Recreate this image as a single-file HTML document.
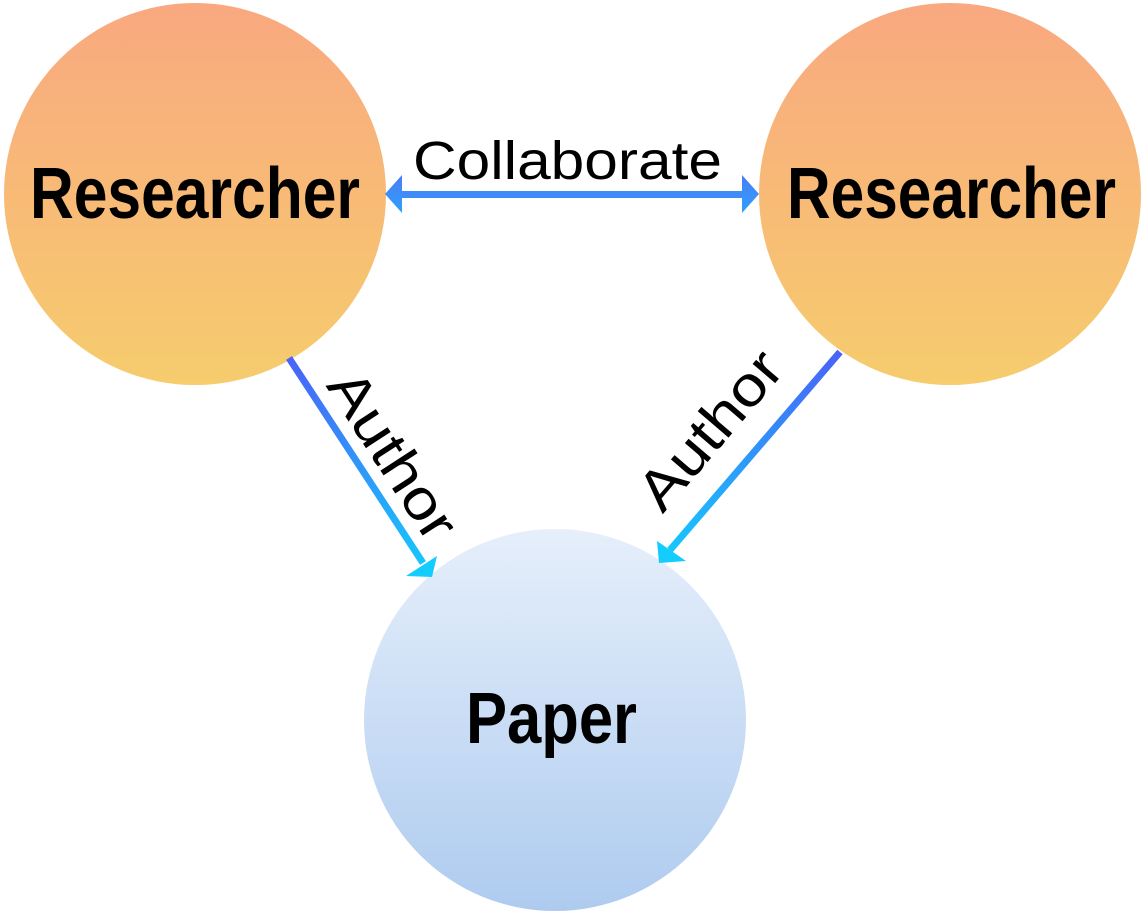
<!DOCTYPE html>
<html><head><meta charset="utf-8"><style>html,body{margin:0;padding:0;background:#fff;}svg{display:block}</style></head>
<body>
<svg width="1145" height="917" viewBox="0 0 1145 917" xmlns="http://www.w3.org/2000/svg">
<defs>
<linearGradient id="og" x1="0" y1="0" x2="0" y2="1"><stop offset="0" stop-color="#F9A880"/><stop offset="1" stop-color="#F6CC6D"/></linearGradient>
<linearGradient id="bg" x1="0" y1="0" x2="0" y2="1"><stop offset="0" stop-color="#E6EFFB"/><stop offset="1" stop-color="#AECBEF"/></linearGradient>
<linearGradient id="a1" gradientUnits="userSpaceOnUse" x1="289" y1="358" x2="432" y2="577"><stop offset="0" stop-color="#4A62F6"/><stop offset="1" stop-color="#14CCFD"/></linearGradient>
<linearGradient id="a2" gradientUnits="userSpaceOnUse" x1="840" y1="352" x2="659" y2="563"><stop offset="0" stop-color="#4A62F6"/><stop offset="1" stop-color="#14CCFD"/></linearGradient>
<linearGradient id="a3" x1="0" y1="0" x2="0" y2="1"><stop offset="0" stop-color="#4A7DF6"/><stop offset="1" stop-color="#2FA0FB"/></linearGradient>
</defs>
<circle cx="195" cy="194" r="191" fill="url(#og)"/>
<circle cx="950" cy="194" r="191" fill="url(#og)"/>
<circle cx="555" cy="720" r="191" fill="url(#bg)"/>
<rect x="400" y="191" width="344" height="7" fill="#3F8BF8"/>
<polygon points="385,194 402,175 402,213" fill="url(#a3)"/>
<polygon points="759,194 742,175 742,213" fill="url(#a3)"/>
<text x="413" y="179" font-family="Liberation Sans, sans-serif" font-size="54" textLength="309" lengthAdjust="spacingAndGlyphs" fill="#000">Collaborate</text>
<line x1="289" y1="358" x2="423" y2="563" stroke="url(#a1)" stroke-width="7"/>
<polygon points="432,577 406,576 437,556" fill="#14CCFD"/>
<line x1="840" y1="352" x2="670" y2="550" stroke="url(#a2)" stroke-width="7"/>
<polygon points="659,563 686,561 657,541" fill="#14CCFD"/>
<text transform="translate(393,455) rotate(57)" text-anchor="middle" font-family="Liberation Sans, sans-serif" font-size="56" textLength="190" lengthAdjust="spacingAndGlyphs" fill="#000" y="19">Author</text>
<text transform="translate(710,430) rotate(-49.4)" text-anchor="middle" font-family="Liberation Sans, sans-serif" font-size="56" textLength="190" lengthAdjust="spacingAndGlyphs" fill="#000" y="19">Author</text>
<text x="30" y="218" font-family="Liberation Sans, sans-serif" font-weight="bold" font-size="72" textLength="330" lengthAdjust="spacingAndGlyphs" fill="#000">Researcher</text>
<text x="787" y="218" font-family="Liberation Sans, sans-serif" font-weight="bold" font-size="72" textLength="329" lengthAdjust="spacingAndGlyphs" fill="#000">Researcher</text>
<text x="466" y="743" font-family="Liberation Sans, sans-serif" font-weight="bold" font-size="72" textLength="171" lengthAdjust="spacingAndGlyphs" fill="#000">Paper</text>
</svg>
</body></html>
